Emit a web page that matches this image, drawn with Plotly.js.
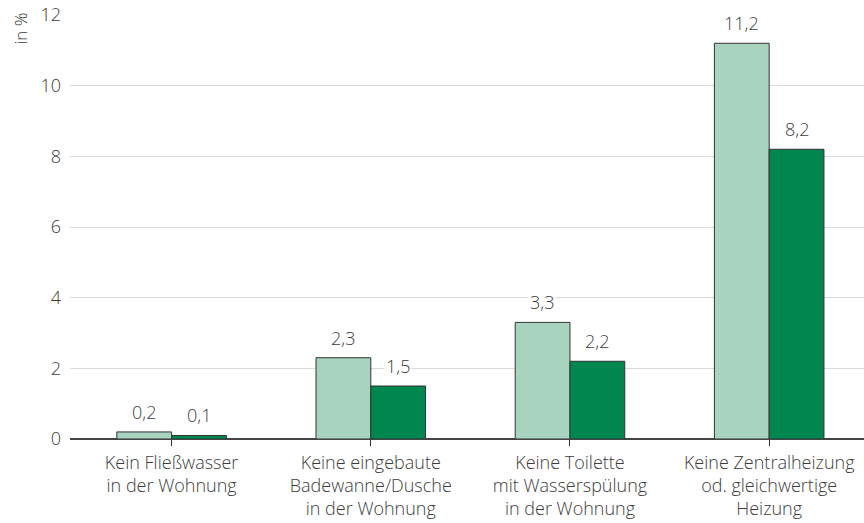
<!DOCTYPE html>
<html><head><meta charset="utf-8">
<script src="https://cdn.plot.ly/plotly-3.0.1.min.js"></script>
<style>html,body{margin:0;padding:0;background:#fff}#chart{width:864px;height:523px}</style>
</head><body><div id="chart"></div>
<script>
const categories = [
  "Kein Fließwasser<br>in der Wohnung",
  "Keine eingebaute<br>Badewanne/Dusche<br>in der Wohnung",
  "Keine Toilette<br>mit Wasserspülung<br>in der Wohnung",
  "Keine Zentralheizung<br>od. gleichwertige<br>Heizung"
];
const seriesA = [0.2, 2.3, 3.3, 11.2];
const seriesB = [0.1, 1.5, 2.2, 8.2];
const yTicks = [0, 2, 4, 6, 8, 10, 12];

const font = "Open Sans, Liberation Sans, Arial, sans-serif";
const txt = "#3c3c3c";
const W = 300;

const traces = [
  {type:"bar", x:categories, y:seriesA, name:"A",
   marker:{color:"#a8d3bf", line:{color:"#333", width:1}}},
  {type:"bar", x:categories, y:seriesB, name:"B",
   marker:{color:"#00874f", line:{color:"#333", width:1}}}
];

const fmt = v => v.toFixed(1).replace(".", ",");
const annotations = [];
[[seriesA, -27.5], [seriesB, 27.5]].forEach(([s, dx]) => {
  s.forEach((v, i) => annotations.push({
    x: i, y: v, xref:"x", yref:"y", text: fmt(v), showarrow:false,
    xshift: dx, yshift: 20, yanchor:"middle", bgcolor:"#fff", borderpad:1,
    font:{family:font, size:18, color:txt, weight:W}
  }));
});
annotations.push({
  xref:"paper", yref:"paper", x:-0.062, y:1.01, xanchor:"center", yanchor:"top",
  text:"in %", textangle:-90, showarrow:false, font:{family:font, size:17, color:txt, weight:W}
});

const layout = {
  width:864, height:523,
  margin:{l:70, r:0, t:15, b:84},
  paper_bgcolor:"#fff", plot_bgcolor:"#fff",
  barmode:"group", bargap:0.45, bargroupgap:0,
  showlegend:false,
  separators:",.",
  xaxis:{type:"category", range:[-0.51, 3.476], showgrid:false, zeroline:false,
    showline:false, ticks:"outside", ticklen:6, tickcolor:"#333", tickwidth:1,
    ticklabelstandoff:1,
    tickfont:{family:font, size:18, color:txt, weight:W}},
  yaxis:{range:[0, 12], tickvals:yTicks, ticktext:yTicks.map(String),
    showgrid:true, gridcolor:"#d9d9d9", gridwidth:1,
    zeroline:true, zerolinecolor:"#444", zerolinewidth:1.5,
    showline:false, ticks:"", ticklabelstandoff:8,
    tickfont:{family:font, size:18, color:txt, weight:W}},
  annotations: annotations,
  font:{family:font, color:txt}
};
Plotly.newPlot("chart", traces, layout, {displayModeBar:false, staticPlot:true});
</script></body></html>
